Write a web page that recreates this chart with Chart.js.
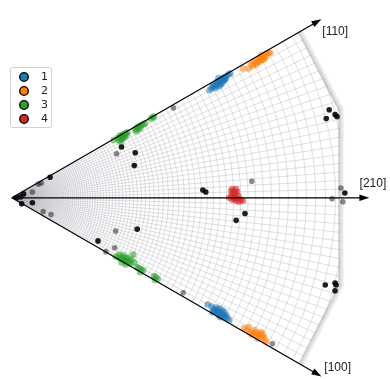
<!DOCTYPE html>
<html>
<head>
<meta charset="utf-8">
<script src="https://cdn.jsdelivr.net/npm/chart.js@4.4.0/dist/chart.umd.min.js"></script>
<style>
  html, body { margin: 0; padding: 0; background: #fff; }
  #wrap { width: 390px; height: 379px; }
</style>
</head>
<body>
<div id="wrap"><canvas id="ipf" width="390" height="379"></canvas></div>
<script>
// legend entries
const clusterLabels = ['1', '2', '3', '4'];
const clusterColors = ['#1f77b4', '#ff7f0e', '#2ca02c', '#d62728'];

// projected orientations per cluster (origin = corner of the triangle)
const cluster1 = [
  [202,110],[205,114],[207,116],[209,118],[211,119],[213,120],[215,122],[217,123],[219,124],[210,115],
  [212,114],[214,116],[208,112],[216,119],[221,126],[204,112],[211,122],[218,121],[223,127],
  [210,118],[213,117],[215,119],[207,114],[217,121],
  [200,-109],[204,-111],[206,-114],[208,-116],[210,-117],[212,-118],[214,-119],[216,-120],[218,-122],
  [220,-123],[222,-125],[209,-112],[212,-113],[215,-115],[213,-122],[217,-117],[211,-120],[205,-117],
  [210,-115],[214,-117],[216,-122],[219,-120],[207,-115]
];
const cluster2 = [
  [236,132],[242,132],[244,137],[247,139],[250,140],[252,142],[254,143],[256,144],[258,145],[260,147],
  [249,136],[253,139],[257,141],[262,148],[264,148],[246,135],[255,146],[251,138],[255,141],[259,143],
  [237,-133],[240,-135],[243,-137],[246,-138],[249,-140],[252,-141],[255,-143],[258,-145],[260,-147],
  [242,-132],[248,-135],[254,-137],[256,-139],[251,-144],[245,-140],[250,-138],[253,-140],[257,-142]
];
const cluster3 = [
  [104,59],[108,61],[110,63],[112,64],[114,65],[116,66],[118,67],[110,59],[113,60],[115,62],[111,57],
  [117,64],[126,70],[128,72],[130,73],[132,74],[134,75],[136,76],[127,68],[131,71],[142,81],[144,82],[145,83],
  [112,61],[114,63],[129,70],
  [106,-60],[109,-61],[111,-62],[113,-63],[115,-64],[117,-65],[119,-66],[121,-67],[110,-58],[114,-59],
  [118,-61],[122,-63],[112,-66],[116,-68],[125,-66],[124,-58],[128,-71],[130,-72],[132,-73],[134,-74],
  [131,-76],[145,-80],[147,-81],[149,-83],[146,-84],[113,-61],[117,-62],[120,-64]
];
const cluster4 = [
  [225,9],[227,7],[230,6],[228,4],[224,2],[226,1],[228,0],[230,-1],[232,-1],[234,-2],[222,0],[236,-3],
  [229,-3],[232,-4],[225,-2],[226,5],[231,2],[224,7],[229,9],[227,-1]
];
// unassigned grains
const darkPoints = [
  [112,52],[126,46],[125,33],[39,21],[12,4],[9,1],[5,0],[21,-5],[10,-6],[128,-32],[88,-44],[324,90],
  [321,81],[330,85],[332,83],[195,8],[198,6],[238,-16],[229,-23],[320,-89],[330,-87],[331,-89],[330,-95],[340,5]
];
const faintPoints = [
  [165,92],[107,45],[30,15],[27,14],[21,6],[32,-14],[40,-17],[106,-34],[105,-51],[96,-55],[175,-97],
  [245,17],[336,10],[327,-1],[338,-4],[266,-149]
];

// triangle directions and outer boundary
const directionLabels = ['[110]', '[210]', '[100]'];
const directionAngles = [30, 0, -30];
const boundaryAngles = [30, 15, -15, -30];
const boundaryRadii = [339, 347, 347, 340];

const toXY = arr => arr.map(p => ({ x: p[0], y: p[1] }));
const rad = d => d * Math.PI / 180;
const polar = (r, deg) => [r * Math.cos(rad(deg)), r * Math.sin(rad(deg))];

function hexToRgba(hex, alpha) {
  const r = parseInt(hex.slice(1, 3), 16);
  const g = parseInt(hex.slice(3, 5), 16);
  const b = parseInt(hex.slice(5, 7), 16);
  return `rgba(${r}, ${g}, ${b}, ${alpha})`;
}

function px(chart, x, y) {
  return [chart.scales.x.getPixelForValue(x), chart.scales.y.getPixelForValue(y)];
}

function boundaryPath(chart, ctx, scale) {
  const o = px(chart, 0, 0);
  ctx.beginPath();
  ctx.moveTo(o[0], o[1]);
  boundaryAngles.forEach((a, i) => {
    const p = polar(boundaryRadii[i] * scale, a);
    const q = px(chart, p[0], p[1]);
    ctx.lineTo(q[0], q[1]);
  });
  ctx.closePath();
}

// grid + shaded rim, arrows, legend
const gridPlugin = {
  id: 'ipfGrid',
  beforeDatasetsDraw(chart) {
    const ctx = chart.ctx;
    const o = px(chart, 0, 0);
    const unit = chart.scales.x.getPixelForValue(1) - chart.scales.x.getPixelForValue(0);

    ctx.save();
    boundaryPath(chart, ctx, 1);
    ctx.clip();
    ctx.strokeStyle = 'rgba(165, 165, 178, 0.5)';
    ctx.lineWidth = 0.7;
    for (let a = -30; a <= 30.01; a += 1.5) {
      const p = polar(370, a);
      const q = px(chart, p[0], p[1]);
      ctx.beginPath();
      ctx.moveTo(o[0], o[1]);
      ctx.lineTo(q[0], q[1]);
      ctx.stroke();
    }
    for (let r = 352; r > 1.5; r /= 1.032) {
      ctx.beginPath();
      ctx.arc(o[0], o[1], r * unit, -rad(31), rad(31));
      ctx.stroke();
    }
    ctx.restore();

    // rim band along the outer edge
    ctx.save();
    for (let i = 0; i < 6; i++) {
      const s = 0.996 + i * 0.003;
      ctx.beginPath();
      boundaryAngles.forEach((a, k) => {
        const p = polar(boundaryRadii[k] * s, a);
        const q = px(chart, p[0], p[1]);
        if (k === 0) ctx.moveTo(q[0], q[1]); else ctx.lineTo(q[0], q[1]);
      });
      ctx.strokeStyle = `rgba(120, 124, 130, ${0.38 * (1 - i / 6)})`;
      ctx.lineWidth = 1.1;
      ctx.stroke();
    }
    ctx.restore();
  },
  afterDatasetsDraw(chart) {
    const ctx = chart.ctx;
    const o = px(chart, 0, 0);
    ctx.save();
    ctx.strokeStyle = '#000';
    ctx.fillStyle = '#000';
    ctx.lineWidth = 1.2;
    directionAngles.forEach(a => {
      const t = polar(365, a);
      const tp = px(chart, t[0], t[1]);
      const dx = Math.cos(rad(a)), dy = -Math.sin(rad(a));
      ctx.beginPath();
      ctx.moveTo(o[0], o[1]);
      ctx.lineTo(tp[0] - dx * 5, tp[1] - dy * 5);
      ctx.stroke();
      const bx = tp[0] - dx * 10, by = tp[1] - dy * 10;
      ctx.beginPath();
      ctx.moveTo(tp[0], tp[1]);
      ctx.lineTo(bx - dy * 3.3, by + dx * 3.3);
      ctx.lineTo(bx + dy * 3.3, by - dx * 3.3);
      ctx.closePath();
      ctx.fill();
    });

    ctx.font = '12px "Liberation Sans", Arial, sans-serif';
    ctx.fillStyle = '#222';
    ctx.textBaseline = 'middle';
    ctx.textAlign = 'left';
    const labelPos = { '[110]': [317, 170], '[210]': [355, 14], '[100]': [319, -174] };
    directionLabels.forEach(l => {
      const q = px(chart, labelPos[l][0], labelPos[l][1]);
      ctx.fillText(l, q[0], q[1]);
    });
    ctx.restore();
  },
  afterDraw(chart) {
    // legend box
    const ctx = chart.ctx;
    ctx.save();
    const bx = 10.5, by = 67.5, bw = 41, bh = 60;
    ctx.beginPath();
    ctx.roundRect(bx, by, bw, bh, 2);
    ctx.fillStyle = 'rgba(255,255,255,0.8)';
    ctx.fill();
    ctx.strokeStyle = '#d0d0d0';
    ctx.lineWidth = 1;
    ctx.stroke();
    ctx.font = '11px "DejaVu Sans", sans-serif';
    ctx.textBaseline = 'middle';
    ctx.textAlign = 'left';
    clusterLabels.forEach((l, i) => {
      const cy = 77 + i * 14;
      ctx.beginPath();
      ctx.arc(24, cy, 4.3, 0, Math.PI * 2);
      ctx.fillStyle = clusterColors[i];
      ctx.fill();
      ctx.strokeStyle = '#000';
      ctx.lineWidth = 1.3;
      ctx.stroke();
      ctx.fillStyle = '#222';
      ctx.fillText(l, 41, cy + 0.5);
    });
    ctx.restore();
  }
};

const clusters = [cluster1, cluster2, cluster3, cluster4];
const datasets = clusters.map((c, i) => ({
  label: clusterLabels[i],
  data: toXY(c),
  pointRadius: 3.3,
  pointBorderWidth: 0,
  pointBackgroundColor: hexToRgba(clusterColors[i], 0.55),
  showLine: false
}));
datasets.push({
  label: 'other',
  data: toXY(faintPoints),
  pointRadius: 2.8,
  pointBorderWidth: 0,
  pointBackgroundColor: 'rgba(0,0,0,0.45)'
});
datasets.push({
  label: 'other dark',
  data: toXY(darkPoints),
  pointRadius: 2.8,
  pointBorderWidth: 0,
  pointBackgroundColor: 'rgba(0,0,0,0.88)'
});

new Chart(document.getElementById('ipf'), {
  type: 'scatter',
  data: { datasets },
  options: {
    responsive: false,
    animation: false,
    devicePixelRatio: 1,
    layout: { padding: 0 },
    plugins: { legend: { display: false }, tooltip: { enabled: false } },
    scales: {
      x: { type: 'linear', min: -8, max: 382, display: false },
      y: { type: 'linear', min: -181, max: 198, display: false }
    }
  },
  plugins: [gridPlugin]
});
</script>
</body>
</html>
